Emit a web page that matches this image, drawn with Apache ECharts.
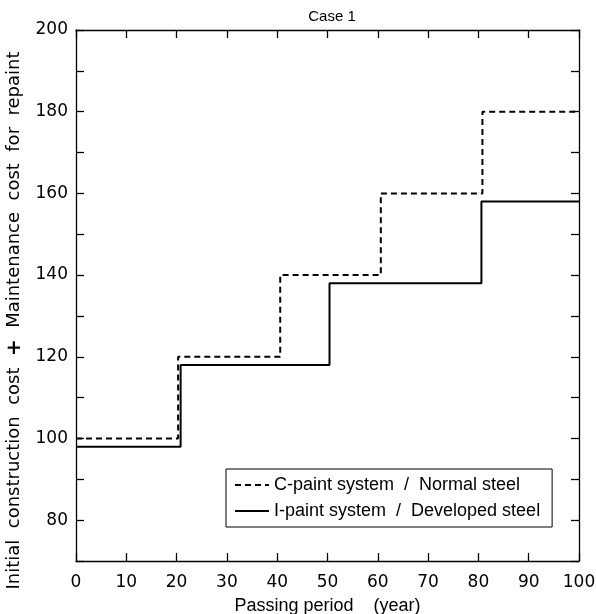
<!DOCTYPE html>
<html>
<head>
<meta charset="utf-8">
<script src="https://cdn.jsdelivr.net/npm/echarts@6/dist/echarts.min.js"></script>
<style>
  html, body { margin: 0; padding: 0; background: #fff; }
  #chart { width: 596px; height: 614px; }
</style>
</head>
<body>
<div id="chart"></div>
<script>
// step corners: [year, cost]
const cPaintNormal = [[0, 100], [20.3, 120], [40.6, 140], [60.6, 160], [80.8, 180], [100, 180]];
const iPaintDeveloped = [[0, 98], [20.8, 118], [50.4, 138], [80.6, 158], [100, 158]];
const seriesNames = ['C-paint system  /  Normal steel', 'I-paint system  /  Developed steel'];

const font = 'Liberation Sans, Arial, sans-serif';
const wide = 'DejaVu Sans, sans-serif';
const chart = echarts.init(document.getElementById('chart'));

const baseAxis = {
  axisLine: { onZero: false, lineStyle: { color: '#000', width: 1.3 } },
  axisTick: { inside: true, length: 8, lineStyle: { color: '#000', width: 1.3 } },
  splitLine: { show: false }
};

chart.setOption({
  animation: false,
  backgroundColor: '#fff',
  title: {
    text: 'Case 1',
    left: 327, top: 4, textAlign: 'center',
    textStyle: { fontFamily: font, fontSize: 15, fontWeight: 'normal', color: '#000' }
  },
  grid: { left: 76, right: 17, top: 30, bottom: 53, outerBoundsMode: 'none' },
  legend: {
    orient: 'vertical',
    left: 226, top: 469,
    padding: [7, 12, 7, 8],
    itemGap: 8,
    itemWidth: 34, itemHeight: 12,
    borderColor: '#000', borderWidth: 1,
    backgroundColor: '#fff',
    itemStyle: { color: 'transparent', borderWidth: 0, opacity: 0 },
    textStyle: { fontFamily: font, fontSize: 18, color: '#000' },
    data: seriesNames
  },
  xAxis: [
    Object.assign({}, baseAxis, {
      type: 'value', min: 0, max: 100, interval: 10,
      name: 'Passing period    (year)', nameLocation: 'middle', nameGap: 36,
      nameTextStyle: { fontFamily: font, fontSize: 18, color: '#000' },
      axisLabel: { fontFamily: wide, fontSize: 17, color: '#000', margin: 13 }
    }),
    Object.assign({}, baseAxis, {
      type: 'value', min: 0, max: 100, interval: 10, position: 'top',
      axisLabel: { show: false }
    })
  ],
  yAxis: [
    Object.assign({}, baseAxis, {
      type: 'value', min: 70, max: 200, interval: 10,
      name: 'Initial  construction  cost  {b|+}  Maintenance  cost  for  repaint',
      nameLocation: 'middle', nameGap: 49,
      nameTextStyle: {
        fontFamily: wide, fontSize: 18, color: '#000', padding: [0, 50, 0, 0],
        rich: { b: { fontFamily: wide, fontSize: 20, fontWeight: 'bold', color: '#000' } }
      },
      axisLabel: {
        fontFamily: wide, fontSize: 17, color: '#000', margin: 8,
        formatter: v => (v % 20 === 0 ? String(v) : '')
      }
    }),
    Object.assign({}, baseAxis, {
      type: 'value', min: 70, max: 200, interval: 10, position: 'right',
      axisLabel: { show: false }
    })
  ],
  series: [
    {
      name: seriesNames[0], type: 'line', step: 'end', symbol: 'none',
      data: cPaintNormal,
      lineStyle: { color: '#000', width: 2, type: [6, 4] },
      itemStyle: { color: '#000' }
    },
    {
      name: seriesNames[1], type: 'line', step: 'end', symbol: 'none',
      data: iPaintDeveloped,
      lineStyle: { color: '#000', width: 2 },
      itemStyle: { color: '#000' }
    }
  ]
});
</script>
</body>
</html>
